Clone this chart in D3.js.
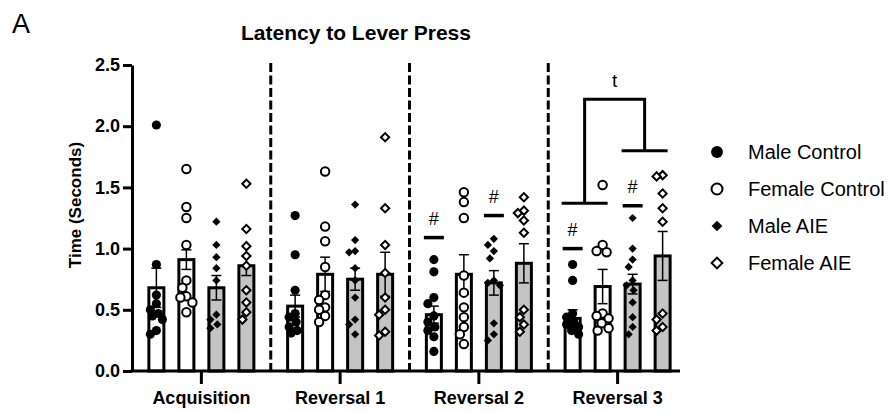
<!DOCTYPE html>
<html>
<head>
<meta charset="utf-8">
<script src="https://cdn.jsdelivr.net/npm/d3@7"></script>
<style>
  body { margin: 0; background: #fff; }
  text { font-family: "Liberation Sans", Arial, sans-serif; fill: #000; }
</style>
</head>
<body>
<script>
// latency to lever press - grouped bars with individual points

const groups = ["Acquisition", "Reversal 1", "Reversal 2", "Reversal 3"];
const series = ["Male Control", "Female Control", "Male AIE", "Female AIE"];
const yTicks = [0, 0.5, 1.0, 1.5, 2.0, 2.5];

// bar heights (mean) per group
const maleControlMean   = [0.68, 0.53, 0.46, 0.43];
const femaleControlMean = [0.91, 0.79, 0.79, 0.69];
const maleAIEMean       = [0.68, 0.75, 0.72, 0.71];
const femaleAIEMean     = [0.86, 0.79, 0.88, 0.94];

// error bars (sem)
const maleControlSem   = [0.16, 0.09, 0.07, 0.07];
const femaleControlSem = [0.08, 0.14, 0.16, 0.14];
const maleAIESem       = [0.10, 0.09, 0.10, 0.08];
const femaleAIESem     = [0.08, 0.18, 0.16, 0.20];

// individual animals
const maleControlPts = [
  [2.01, 0.87, 0.62, 0.55, 0.50, 0.47, 0.45, 0.42, 0.33, 0.30],
  [1.27, 0.95, 0.66, 0.47, 0.44, 0.40, 0.36, 0.33, 0.31],
  [0.91, 0.81, 0.60, 0.55, 0.45, 0.40, 0.36, 0.33, 0.28, 0.16],
  [0.87, 0.74, 0.47, 0.44, 0.40, 0.38, 0.36, 0.33, 0.30]
];
const femaleControlPts = [
  [1.65, 1.34, 1.25, 1.03, 0.74, 0.68, 0.61, 0.60, 0.56, 0.48],
  [1.63, 1.18, 1.06, 0.85, 0.62, 0.58, 0.52, 0.50, 0.45, 0.40],
  [1.46, 1.38, 1.25, 0.78, 0.64, 0.52, 0.44, 0.36, 0.30, 0.22],
  [1.52, 1.03, 0.98, 0.97, 0.47, 0.45, 0.43, 0.39, 0.35, 0.33]
];
const maleAIEPts = [
  [1.22, 1.03, 0.93, 0.84, 0.74, 0.46, 0.42, 0.38, 0.35],
  [1.36, 1.07, 0.98, 0.97, 0.84, 0.74, 0.60, 0.42, 0.38, 0.30],
  [1.08, 1.03, 0.98, 0.92, 0.74, 0.72, 0.70, 0.39, 0.30, 0.25],
  [1.25, 1.00, 0.91, 0.85, 0.74, 0.70, 0.66, 0.56, 0.44, 0.36, 0.30]
];
const femaleAIEPts = [
  [1.53, 1.16, 1.02, 0.94, 0.86, 0.66, 0.56, 0.48, 0.42],
  [1.91, 1.33, 1.03, 0.80, 0.60, 0.50, 0.46, 0.32, 0.29],
  [1.42, 1.31, 1.29, 1.23, 1.13, 0.50, 0.44, 0.38, 0.32],
  [1.60, 1.59, 1.45, 1.33, 1.22, 0.47, 0.42, 0.36, 0.33]
];

// significance marks
const hashGroups = ["Reversal 2", "Reversal 2", "Reversal 3", "Reversal 3"];
const hashSeries = ["Male Control", "Male AIE", "Male Control", "Male AIE"];
const hashValues = [1.09, 1.27, 1.00, 1.35];

const bracketGroup = "Reversal 3";
const bracketLevels = [1.37, 1.80, 2.22]; // left arm, right arm, top
const bracketLabel = "t";

const means = [maleControlMean, femaleControlMean, maleAIEMean, femaleAIEMean];
const sems = [maleControlSem, femaleControlSem, maleAIESem, femaleAIESem];
const points = [maleControlPts, femaleControlPts, maleAIEPts, femaleAIEPts];
const barFill = ["#fff", "#fff", "#c4c4c4", "#c4c4c4"];

drawSVG();

function marker(sel, s, big) {
  // filled / open circle and diamond like the prism symbols
  let k = big ? 1.3 : 1;
  let isDiamond = s >= 2;
  let open = s % 2 == 1;
  let sym = isDiamond
    ? d3.symbol().type(d3.symbolSquare).size(34 * k * k)
    : d3.symbol().type(d3.symbolCircle).size((open ? 56 : 66) * k * k);
  sel.append("path")
    .attr("d", sym())
    .attr("transform", isDiamond ? "rotate(45)" : null)
    .attr("fill", open ? "#fff" : "#000")
    .attr("stroke", "#000")
    .attr("stroke-width", open ? 2 : 0);
}

function swarm(vals, y) {
  // small horizontal spread for overlapping points
  let placed = [];
  let offsets = [0];
  for (let i = 1; i <= 6; i++) offsets.push(-i, i);
  return vals.map(function(v) {
    let py = y(v);
    let best = 0, bestScore = Infinity;
    for (let o of offsets) {
      let score = 0;
      placed.forEach(function(p) {
        let d = Math.hypot(p.x - o, p.y - py);
        if (d < 8) score = Math.max(score, 8 - d);
      });
      if (score < bestScore - 0.01) { bestScore = score; best = o; }
      if (score == 0) break;
    }
    placed.push({x: best, y: py});
    return {v: v, dx: best};
  });
}

function drawSVG() {
  var width = 896, height = 412;

  var svg = d3.select("body").append("svg")
      .attr("width", width)
      .attr("height", height);

  var y = d3.scaleLinear().domain([0, 2.5]).range([371, 65]);
  var x0 = d3.scaleBand().domain(groups).range([132, 687]);
  var x1 = d3.scaleBand().domain(series).range([-60, 60]);
  var barW = x1.bandwidth() * 0.5;
  var cx = function(g, s) { return x0(g) + x0.bandwidth() / 2 + x1(s) + x1.bandwidth() / 2; };

  // title and panel letter
  svg.append("text").attr("x", 12).attr("y", 33)
      .style("font-size", "27px").text("A");
  svg.append("text").attr("x", 356).attr("y", 40)
      .attr("text-anchor", "middle")
      .style("font-size", "21px").style("font-weight", "bold")
      .text("Latency to Lever Press");

  // dashed separators
  svg.selectAll("line.sep")
    .data(groups.slice(1))
    .enter().append("line")
      .attr("class", "sep")
      .attr("x1", d => x0(d)).attr("x2", d => x0(d))
      .attr("y1", y(2.5) - 2).attr("y2", y(0))
      .attr("stroke", "#000").attr("stroke-width", 3)
      .attr("stroke-dasharray", "9,3.5");

  // bars
  series.forEach(function(s, si) {
    let gSel = svg.append("g");
    gSel.selectAll("rect")
      .data(groups)
      .enter().append("rect")
        .attr("x", g => cx(g, s) - barW / 2)
        .attr("y", (g, gi) => y(means[si][gi]))
        .attr("width", barW)
        .attr("height", (g, gi) => y(0) - y(means[si][gi]))
        .attr("fill", barFill[si])
        .attr("stroke", "#000").attr("stroke-width", 3);
  });

  // error bars
  series.forEach(function(s, si) {
    groups.forEach(function(g, gi) {
      let m = means[si][gi], e = sems[si][gi], x = cx(g, s);
      let eg = svg.append("g").attr("stroke", "#000").attr("stroke-width", 1.5);
      eg.append("line").attr("x1", x).attr("x2", x).attr("y1", y(m - e)).attr("y2", y(m + e));
      [m - e, m + e].forEach(function(v) {
        eg.append("line").attr("x1", x - 5).attr("x2", x + 5).attr("y1", y(v)).attr("y2", y(v));
      });
    });
  });

  // points
  series.forEach(function(s, si) {
    groups.forEach(function(g, gi) {
      let sw = swarm(points[si][gi], y);
      svg.append("g").selectAll("g")
        .data(sw)
        .enter().append("g")
          .attr("transform", d => "translate(" + (cx(g, s) + d.dx) + "," + y(d.v) + ")")
          .each(function() { marker(d3.select(this), si, false); });
    });
  });

  // axes
  var yAxis = svg.append("g")
      .attr("transform", "translate(132,0)")
      .call(d3.axisLeft(y).tickValues(yTicks).tickFormat(d3.format(".1f"))
            .tickSize(9).tickSizeOuter(0).tickPadding(3));
  yAxis.selectAll("path, line").attr("stroke-width", 3);
  yAxis.selectAll("text").style("font-size", "18px").style("font-weight", "bold")
      .attr("font-family", null);

  var xAxis = svg.append("g")
      .attr("transform", "translate(0," + y(0) + ")")
      .call(d3.axisBottom(x0).tickSize(13).tickSizeOuter(0).tickPadding(7));
  xAxis.select(".domain").remove();
  xAxis.append("line")
      .attr("x1", 130.5).attr("x2", x0.range()[1] - 7)
      .attr("stroke", "#000").attr("stroke-width", 3);
  xAxis.selectAll(".tick line").attr("stroke-width", 3);
  xAxis.selectAll("text").style("font-size", "18px").style("font-weight", "bold")
      .attr("font-family", null);

  svg.append("text")
      .attr("transform", "translate(81,205) rotate(-90)")
      .attr("text-anchor", "middle")
      .style("font-size", "17px").style("font-weight", "bold")
      .text("Time (Seconds)");

  // # marks
  hashValues.forEach(function(v, i) {
    let x = cx(hashGroups[i], hashSeries[i]);
    svg.append("line")
      .attr("x1", x - 10).attr("x2", x + 10).attr("y1", y(v)).attr("y2", y(v))
      .attr("stroke", "#000").attr("stroke-width", 3.5);
    svg.append("text")
      .attr("x", x).attr("y", y(v) - 13)
      .attr("text-anchor", "middle")
      .style("font-size", "18px").text("#");
  });

  // bracket (trend)
  let lx = (cx(bracketGroup, series[0]) + cx(bracketGroup, series[1])) / 2 - 3;
  let rx = (cx(bracketGroup, series[2]) + cx(bracketGroup, series[3])) / 2 - 3;
  let bg = svg.append("g").attr("stroke", "#000").attr("stroke-width", 3).attr("fill", "none");
  bg.append("line").attr("x1", lx - 23).attr("x2", lx + 23)
    .attr("y1", y(bracketLevels[0])).attr("y2", y(bracketLevels[0]));
  bg.append("line").attr("x1", rx - 23).attr("x2", rx + 23)
    .attr("y1", y(bracketLevels[1])).attr("y2", y(bracketLevels[1]));
  bg.append("path")
    .attr("d", "M" + lx + "," + y(bracketLevels[0]) + "V" + y(bracketLevels[2]) +
               "H" + rx + "V" + y(bracketLevels[1]));
  svg.append("text")
    .attr("x", (lx + rx) / 2).attr("y", y(bracketLevels[2]) - 12)
    .attr("text-anchor", "middle")
    .style("font-size", "19px").text(bracketLabel);

  // legend
  let legend = svg.append("g");
  series.forEach(function(s, i) {
    let row = legend.append("g").attr("transform", "translate(717," + (152 + i * 37) + ")");
    marker(row, i, true);
    row.append("text")
      .attr("x", 31).attr("dy", "0.35em")
      .style("font-size", "20px").text(s);
  });
}
</script>
</body>
</html>
